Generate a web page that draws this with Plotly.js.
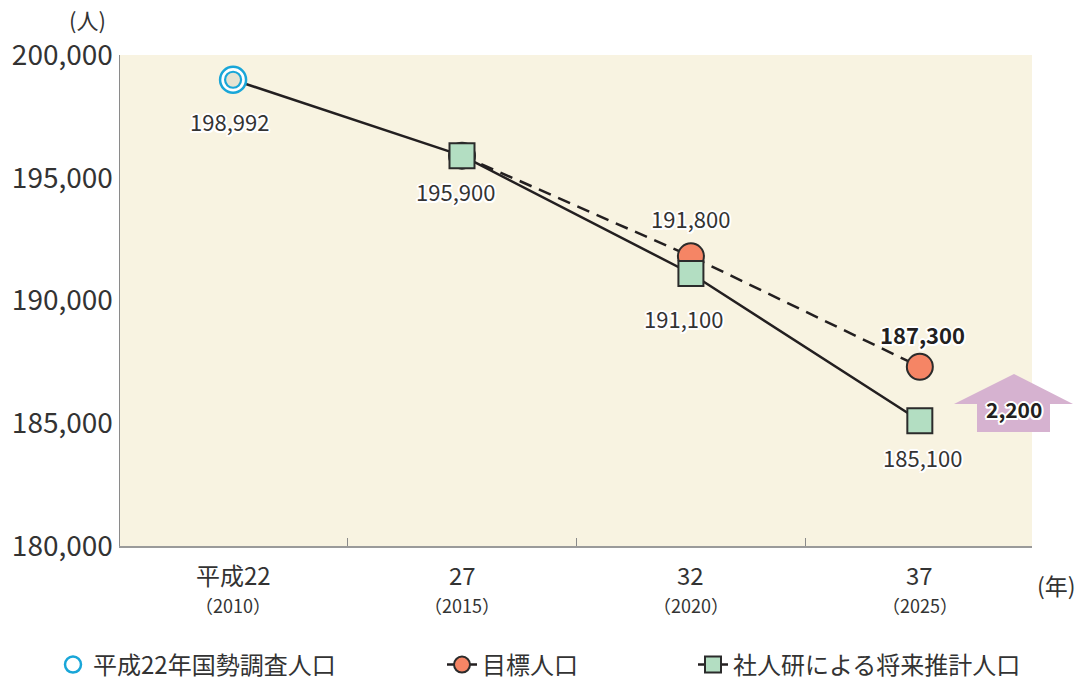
<!DOCTYPE html>
<html>
<head>
<meta charset="utf-8">
<script src="https://cdn.plot.ly/plotly-3.0.1.min.js"></script>
<style>html,body{margin:0;padding:0;background:#fff;}#chart{width:1081px;height:683px;}</style>
</head>
<body>
<div id="chart"></div>
<script>
// ---- data ----
const years = [2010, 2015, 2020, 2025];
const yearLabels = ['平成22', '27', '32', '37'];
const yearSubLabels = ['（2010）', '（2015）', '（2020）', '（2025）'];
const censusYears = [2010];
const censusValues = [198992];
const targetYears = [2015, 2020, 2025];
const targetValues = [195900, 191800, 187300];
const projYears = [2010, 2015, 2020, 2025];
const projValues = [198992, 195900, 191100, 185100];
const seriesNames = ['平成22年国勢調査人口', '目標人口', '社人研による将来推計人口'];

// ---- layout helpers ----
const W = 1081, H = 683;
const M = {l: 120, r: 49, t: 55, b: 137, autoexpand: false};
const PW = W - M.l - M.r, PH = H - M.t - M.b;
const px = v => (v - M.l) / PW;
const py = v => (H - M.b - v) / PH;
const FONT = '"Noto Sans CJK JP", "Noto Sans", sans-serif';
const halo = '2px 0 0 #fff, -2px 0 0 #fff, 0 2px 0 #fff, 0 -2px 0 #fff, 1.5px 1.5px 0 #fff, -1.5px -1.5px 0 #fff, 1.5px -1.5px 0 #fff, -1.5px 1.5px 0 #fff';
const fmt = v => v.toLocaleString('en-US');

const traces = [
  // projection segment 2010-2015 (no legend)
  {x: projYears.slice(0, 2), y: projValues.slice(0, 2), mode: 'lines', showlegend: false,
   line: {color: '#231f20', width: 2.5}, hoverinfo: 'skip'},
  // census outer ring
  {x: censusYears, y: censusValues, mode: 'markers', name: seriesNames[0], legend: 'legend',
   marker: {symbol: 'circle', size: 26, color: '#ffffff', line: {color: '#19a6d8', width: 2.5}}},
  // census inner ring
  {x: censusYears, y: censusValues, mode: 'markers', showlegend: false,
   marker: {symbol: 'circle', size: 16, color: '#e6e3d2', line: {color: '#19a6d8', width: 2.2}}},
  // target
  {x: targetYears, y: targetValues, mode: 'lines+markers', name: seriesNames[1], legend: 'legend2',
   line: {color: '#231f20', width: 2.5, dash: '13px,8px'},
   marker: {symbol: 'circle', size: 26, color: '#f58565', line: {color: '#2b2b2b', width: 2}}},
  // projection
  {x: projYears.slice(1), y: projValues.slice(1), mode: 'lines+markers', name: seriesNames[2], legend: 'legend3',
   line: {color: '#231f20', width: 2.5},
   marker: {symbol: 'square', size: 25, color: '#b3dec2', line: {color: '#2b2b2b', width: 2}}}
];

const annotations = [];
const ann = o => annotations.push(Object.assign({showarrow: false, xanchor: 'center', yanchor: 'middle'}, o));
// data labels
const lab = (x, y, xs, ys, bold) => ann({
  x: x, y: y, xref: 'x', yref: 'y', text: bold ? '<b>' + fmt(y) + '</b>' : fmt(y),
  xshift: xs, yshift: ys,
  font: {family: FONT, size: 22, color: bold ? '#231f20' : '#333333', shadow: halo}
});
lab(censusYears[0], censusValues[0], -4, -41);
lab(projYears[1], projValues[1], -7, -35);
lab(targetYears[1], targetValues[1], 0, 38);
lab(projYears[2], projValues[2], -7, -45);
lab(targetYears[2], targetValues[2], 3, 33, true);
lab(projYears[3], projValues[3], 3, -36);

// x category labels
years.forEach((yr, i) => {
  ann({x: yr, y: py(574), xref: 'x', yref: 'paper', text: yearLabels[i],
    font: {family: FONT, size: 24, color: '#333333'}});
  ann({x: yr, y: py(605), xref: 'x', yref: 'paper', text: yearSubLabels[i],
    font: {family: FONT, size: 18, color: '#333333'}});
});
// unit labels
ann({x: px(87), y: py(19), xref: 'paper', yref: 'paper', text: '(人)',
  font: {family: FONT, size: 22, color: '#333333'}});
ann({x: px(1056), y: py(585), xref: 'paper', yref: 'paper', text: '(年)',
  font: {family: FONT, size: 23, color: '#333333'}});
// gap arrow label
const gap = targetValues[targetValues.length - 1] - projValues[projValues.length - 1];
ann({x: px(1014), y: py(409), xref: 'paper', yref: 'paper', text: '<b>' + fmt(gap) + '</b>',
  font: {family: FONT, size: 21, color: '#231f20', shadow: halo}});

const arrowPts = [[954, 404], [1014, 374], [1073, 404], [1050, 404], [1050, 432], [977, 432], [977, 404]];
const arrowPath = 'M' + arrowPts.map(p => px(p[0]) + ',' + py(p[1])).join(' L') + ' Z';

const legendBase = {orientation: 'h', yanchor: 'middle', xanchor: 'left', bgcolor: 'rgba(0,0,0,0)',
  font: {family: FONT, size: 24, color: '#333333'}, y: py(665)};

const layout = {
  width: W, height: H,
  margin: M,
  paper_bgcolor: '#ffffff',
  plot_bgcolor: '#f8f3e1',
  font: {family: FONT, color: '#333333'},
  xaxis: {range: [2007.53, 2027.45], showgrid: false, zeroline: false, showline: true,
    linecolor: '#9a9a9a', linewidth: 1.5, tickvals: [2012.5, 2017.5, 2022.5], ticktext: ['', '', ''],
    ticks: 'inside', ticklen: 8, tickcolor: '#8a8a8a', tickwidth: 1.2, fixedrange: true},
  yaxis: {range: [180000, 200000], tickvals: [180000, 185000, 190000, 195000, 200000],
    ticktext: ['180,000', '185,000', '190,000', '195,000', '200,000'],
    showgrid: false, zeroline: false, showline: true, linecolor: '#8a8a8a', linewidth: 1.5,
    ticks: '', tickfont: {family: FONT, size: 28, color: '#333333'}, fixedrange: true},
  shapes: [{type: 'path', xref: 'paper', yref: 'paper', path: arrowPath,
    fillcolor: '#d6b2d0', line: {width: 0}, layer: 'above'}],
  annotations: annotations,
  legend: Object.assign({}, legendBase, {x: px(53)}),
  legend2: Object.assign({}, legendBase, {x: px(442)}),
  legend3: Object.assign({}, legendBase, {x: px(693)}),
  showlegend: true
};

Plotly.newPlot('chart', traces, layout, {displayModeBar: false, staticPlot: true});
</script>
</body>
</html>
